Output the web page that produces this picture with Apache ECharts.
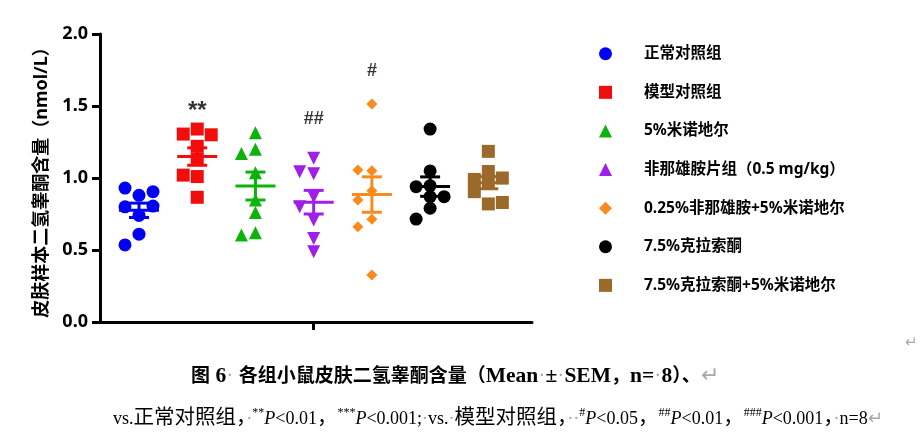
<!DOCTYPE html>
<html><head><meta charset="utf-8">
<script src="https://cdn.jsdelivr.net/npm/echarts@6/dist/echarts.min.js"></script>
<style>
html,body{margin:0;padding:0;background:#fff;width:922px;height:438px;overflow:hidden;}
#chart{position:absolute;left:0;top:0;width:922px;height:438px;}
.cap{position:absolute;white-space:nowrap;font-family:"Liberation Serif","Noto Sans CJK SC",serif;color:#000;}
.g{color:#a8a8a8;font-weight:normal;}
.c1{font-family:"Noto Sans CJK SC",sans-serif;font-size:19px;}
.c2{font-family:"Noto Sans CJK SC",sans-serif;font-size:20.5px;}
sup{font-size:12px;vertical-align:8px;line-height:0;}
</style></head><body>
<div id="chart"></div>
<div class="cap" style="left:191px;top:360px;font-size:21.5px;font-weight:bold;"><span class="c1">图</span> 6<span class="g">·</span> <span class="c1">各组小鼠皮肤二氢睾酮含量（</span>Mean<span class="g">·</span>±<span class="g">·</span>SEM<span class="c1">，</span>n=<span class="g">·</span>8<span class="c1">）、</span><span class="g">↵</span></div>
<div class="cap" style="left:113px;top:400px;font-size:18px;">vs.<span class="c2">正常对照组，</span><span class="g">·</span><sup>**</sup><i>P</i>&lt;0.01<span class="c2">，</span><sup>***</sup><i>P</i>&lt;0.001;<span class="g">·</span>vs.<span class="g">·</span><span class="c2">模型对照组，</span><span class="g">··</span><sup>#</sup><i>P</i>&lt;0.05<span class="c2">，</span><sup>##</sup><i>P</i>&lt;0.01<span class="c2">，</span><sup>###</sup><i>P</i>&lt;0.001<span class="c2">，</span><span class="g">·</span>n=8<span class="g">↵</span></div>
<div class="cap g" style="left:905px;top:333px;font-size:15px;">↵</div>
<script>
// ---- data ----
const groups = ['正常对照组','模型对照组','5%米诺地尔','非那雄胺片组（0.5 mg/kg）','0.25%非那雄胺+5%米诺地尔','7.5%克拉索酮','7.5%克拉索酮+5%米诺地尔'];
const normalCtrl   = [0.88, 0.93, 0.905, 0.74, 0.80, 0.805, 0.61, 0.535];
const modelCtrl    = [1.34, 1.305, 1.30, 1.22, 1.13, 1.01, 1.02, 0.866];
const minoxidil    = [1.315, 1.20, 1.17, 1.037, 0.847, 0.76, 0.62, 0.604];
const finasteride  = [1.137, 1.03, 1.044, 0.87, 0.80, 0.708, 0.58, 0.488];
const finMinox     = [1.514, 1.051, 1.056, 0.912, 0.847, 0.713, 0.662, 0.326];
const clascoterone = [1.34, 1.049, 0.87, 0.947, 0.94, 0.87, 0.79, 0.715];
const clasMinox    = [1.185, 1.045, 0.99, 1.0, 0.965, 0.905, 0.82, 0.83];
const sigMarks     = ['', '**', '', '##', '#', '', ''];
const sigLevels    = [null, 1.46, null, 1.41, 1.74, null, null];
const yTicks       = [0, 0.5, 1.0, 1.5, 2.0];

// ---- styles ----
const colors  = ['#0000f2','#f20d0d','#0bb30b','#a01ee8','#fa8a1c','#000000','#9b6a2a'];
const symbols = ['circle','rect','triangle','triangle','diamond','circle','rect'];
const rotates = [0,0,0,180,0,0,0];
const sizes   = [13,13,13,13,11,13,13];
const allData = [normalCtrl, modelCtrl, minoxidil, finasteride, finMinox, clascoterone, clasMinox];

const grid = {left:100, top:34, width:432, height:288};
const xMin = -0.67, xMax = 6.75;
const kx = grid.width/(xMax-xMin), ky = grid.height/(yTicks[yTicks.length-1]-yTicks[0]);

function spread(vals, gi){
  const placed = [], step = 14, thr = 11;
  return vals.map(v => {
    for (const k of [0,-1,1,-2,2,-3,3]) {
      const x = k*step;
      if (placed.every(p => Math.hypot(p.x-x,(p.v-v)*ky) >= thr)) {
        placed.push({x, v}); return [gi + x/kx, v];
      }
    }
    return [gi, v];
  });
}
function stats(vals){
  const n = vals.length, m = vals.reduce((a,b)=>a+b,0)/n;
  const sd = Math.sqrt(vals.reduce((a,b)=>a+(b-m)*(b-m),0)/(n-1));
  return [m, sd/Math.sqrt(n)];
}

const fontMain = '"Noto Sans","Noto Sans CJK SC",sans-serif';
const series = groups.map((g,i)=>({
  name:g, type:'scatter', data: spread(allData[i], i),
  symbol:symbols[i], symbolRotate:rotates[i], symbolSize:sizes[i],
  itemStyle:{color:colors[i], opacity:1}, z:2
}));
series.push({
  type:'custom', z:5, silent:true,
  data: allData.map((vals,i)=>{const s=stats(vals); return [i, s[0], s[1]];}),
  renderItem(params, api){
    const i = api.value(0), m = api.value(1), se = api.value(2);
    const c = api.coord([i,m]), t = api.coord([i,m+se]), b = api.coord([i,m-se]);
    const st = {stroke:colors[params.dataIndex], lineWidth:3};
    return {type:'group', children:[
      {type:'line', shape:{x1:c[0]-20,y1:c[1],x2:c[0]+20,y2:c[1]}, style:st},
      {type:'line', shape:{x1:c[0],y1:t[1],x2:c[0],y2:b[1]}, style:st},
      {type:'line', shape:{x1:c[0]-10,y1:t[1],x2:c[0]+10,y2:t[1]}, style:st},
      {type:'line', shape:{x1:c[0]-10,y1:b[1],x2:c[0]+10,y2:b[1]}, style:st}
    ]};
  }
});
series.push({
  type:'scatter', symbolSize:0, silent:true, z:6,
  data: sigMarks.map((s,i)=> s ? {value:[i, sigLevels[i]], label:{formatter:s, fontSize: s.indexOf('*')>=0 ? 24 : 18}} : null).filter(d=>d),
  label:{show:true, position:'inside', color:'#000', fontWeight:'bold', fontFamily:'"Liberation Sans",sans-serif'}
});

const chart = echarts.init(document.getElementById('chart'), null, {renderer:'canvas'});
chart.setOption({
  animation:false,
  backgroundColor:'#fff',
  grid:{left:grid.left, top:grid.top, width:grid.width, height:grid.height, containLabel:false},
  legend:{
    data:groups, orient:'vertical', left:594, top:41,
    itemWidth:13, itemHeight:13, itemGap:23.1, symbolRotate:'inherit',
    textStyle:{fontSize:15.5, fontWeight:'bold', color:'#000', fontFamily:fontMain, lineHeight:13, padding:[0,0,0,27]}
  },
  xAxis:{
    type:'value', min:xMin, max:xMax,
    axisLine:{show:true, onZero:false, lineStyle:{color:'#000', width:3}},
    axisTick:{show:true, customValues:[3], length:8, lineStyle:{color:'#000', width:3}},
    axisLabel:{show:false}, splitLine:{show:false}
  },
  yAxis:{
    type:'value', min:yTicks[0], max:yTicks[yTicks.length-1], interval:0.5,
    name:'皮肤样本二氢睾酮含量（nmol/L）', nameLocation:'middle', nameGap:49, nameRotate:90,
    nameTextStyle:{fontSize:18, fontWeight:'bold', color:'#000', fontFamily:fontMain},
    axisLine:{show:true, onZero:false, lineStyle:{color:'#000', width:3}},
    axisTick:{show:true, length:8, lineStyle:{color:'#000', width:3}},
    axisLabel:{fontSize:18, fontWeight:'bold', color:'#000', margin:12, fontFamily:fontMain,
      formatter:v=>v.toFixed(1)},
    splitLine:{show:false}
  },
  series
});
</script>
</body></html>
